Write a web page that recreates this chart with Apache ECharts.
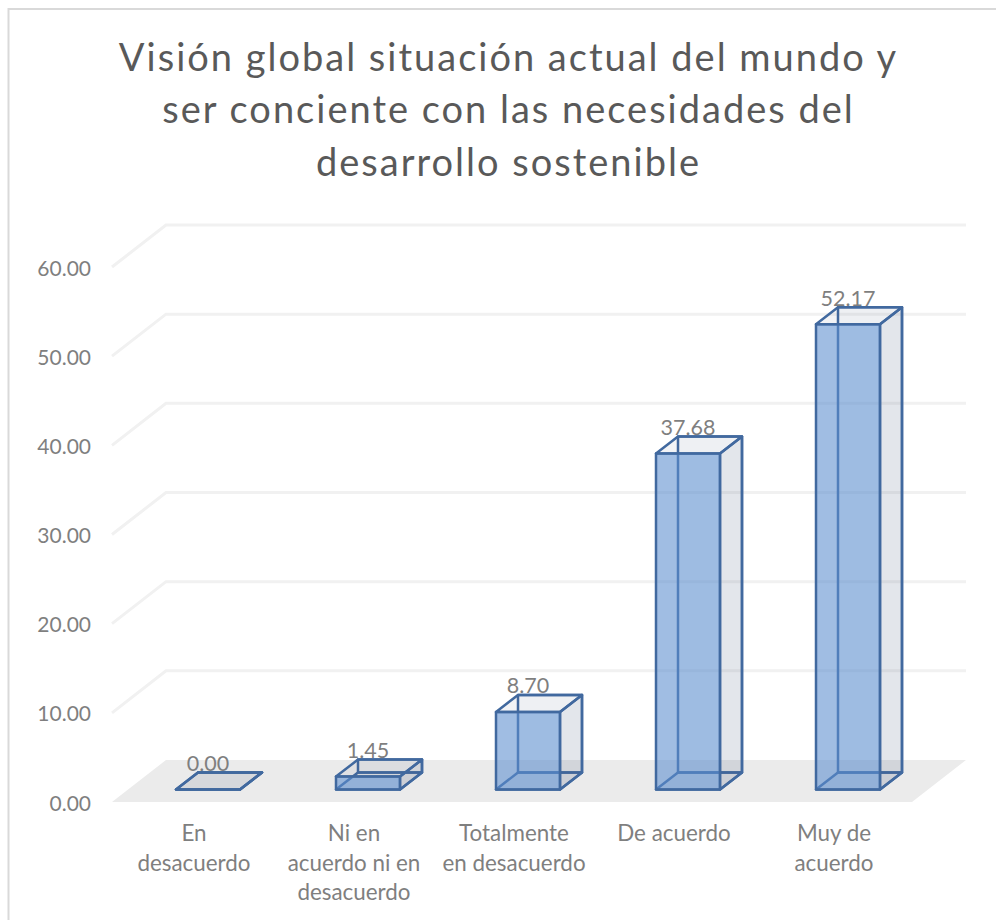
<!DOCTYPE html>
<html><head><meta charset="utf-8">
<style>html,body{margin:0;padding:0;background:#fff}#c{width:996px;height:920px}
#c svg text[style*="38px"]{letter-spacing:2px}</style>
<script src="https://cdn.jsdelivr.net/npm/echarts@6/dist/echarts.min.js"></script>
</head><body><div id="c"></div>
<script>
const categories = ['En\ndesacuerdo','Ni en\nacuerdo ni en\ndesacuerdo','Totalmente\nen desacuerdo','De acuerdo','Muy de\nacuerdo'];
const values = [0.00,1.45,8.70,37.68,52.17];
const gridTicks = [10,20,30,40,50,60];
const titleText = 'Visión global situación actual del mundo y\nser conciente con las necesidades del\ndesarrollo sostenible';

const FONT = 'Lato, Carlito, "Open Sans", sans-serif';
const WALL = [54,-42];
const BAR_SHIFT = [16,-12.5];
const BAR_DEPTH = [22,-17];
const STROKE = '#41699f';

function poly(points, fill, z){
  return {type:'polygon', z2:z, shape:{points}, style:{fill:fill, stroke:STROKE, lineWidth:2.5, lineJoin:'round'}};
}
const chart = echarts.init(document.getElementById('c'),null,{renderer:'svg'});
chart.setOption({
  animation:false,
  backgroundColor:'#fff',
  title:{text:titleText,left:503.5,top:24.5,textAlign:'center',
    textStyle:{fontFamily:FONT,fontSize:38,fontWeight:'normal',color:'#595959',lineHeight:52.5}},
  graphic:[{type:'polyline',silent:true,shape:{points:[[8.5,920],[8.5,9],[996,9]]},
    style:{fill:'none',stroke:'#d9d9d9',lineWidth:2}}],
  grid:{left:112,right:84,top:267,bottom:118},
  xAxis:{type:'category',data:categories,axisLine:{show:false},axisTick:{show:false},
    axisLabel:{margin:16,padding:[0,0,0,4],fontFamily:FONT,fontSize:22.4,color:'#7f7f7f',lineHeight:29.5,interval:0}},
  yAxis:{type:'value',min:0,max:60,interval:10,axisLine:{show:false},axisTick:{show:false},splitLine:{show:false},
    axisLabel:{margin:21,padding:[0,0,2,0],fontFamily:FONT,fontSize:21,color:'#7f7f7f',formatter:v=>v.toFixed(2)}},
  series:[
    {type:'custom',silent:true,z:1,data:[0],coordinateSystem:'cartesian2d',
     renderItem(p,api){
       const s=api.coord([0,0]); const r=p.coordSys;
       const a=[r.x,s[1]], b=[r.x+r.width,s[1]];
       return {type:'polygon',shape:{points:[a,b,[b[0]+WALL[0],b[1]+WALL[1]],[a[0]+WALL[0],a[1]+WALL[1]]]},style:{fill:'#ebebeb'}};
     }},
    {type:'custom',silent:true,z:2,data:gridTicks,coordinateSystem:'cartesian2d',
     encode:{y:0},
     renderItem(p,api){
       const y=api.coord([0,api.value(0)])[1]; const r=p.coordSys;
       return {type:'polyline',shape:{points:[[r.x,y],[r.x+WALL[0],y+WALL[1]],[r.x+r.width+WALL[0],y+WALL[1]]]},
         style:{fill:'none',stroke:'#f1f1f1',lineWidth:3}};
     }},
    {type:'custom',silent:true,z:3,data:values.map((v,i)=>[i,v]),coordinateSystem:'cartesian2d',
     encode:{x:0,y:1},
     renderItem(p,api){
       const v=api.value(1);
       const base=api.coord([api.value(0),0]), top=api.coord([api.value(0),v]);
       const hw=api.size([1,0])[0]*0.2;
       const x0=base[0]-hw+BAR_SHIFT[0], x1=base[0]+hw+BAR_SHIFT[0];
       const yb=base[1]+BAR_SHIFT[1], yt=top[1]+BAR_SHIFT[1];
       const dx=BAR_DEPTH[0], dy=BAR_DEPTH[1];
       const kids=[
         poly([[x0,yb],[x1,yb],[x1+dx,yb+dy],[x0+dx,yb+dy]],'rgba(68,84,126,0.06)',1),
         poly([[x0+dx,yt+dy],[x1+dx,yt+dy],[x1+dx,yb+dy],[x0+dx,yb+dy]],'rgba(68,84,126,0.02)',2),
         poly([[x1,yt],[x1+dx,yt+dy],[x1+dx,yb+dy],[x1,yb]],'rgba(68,84,126,0.13)',3),
         poly([[x0,yt],[x1,yt],[x1+dx,yt+dy],[x0+dx,yt+dy]],'rgba(68,84,126,0.07)',4),
         poly([[x0,yt],[x1,yt],[x1,yb],[x0,yb]],'rgba(91,141,207,0.58)',5),
         {type:'text',z2:6,style:{text:v.toFixed(2),x:(x0+x1)/2,y:yt+dy-9.5,align:'center',verticalAlign:'middle',
           fontFamily:FONT,fontSize:21.5,fill:'#7f7f7f'}}
       ];
       return {type:'group',children:kids};
     }}
  ]
});
</script></body></html>
